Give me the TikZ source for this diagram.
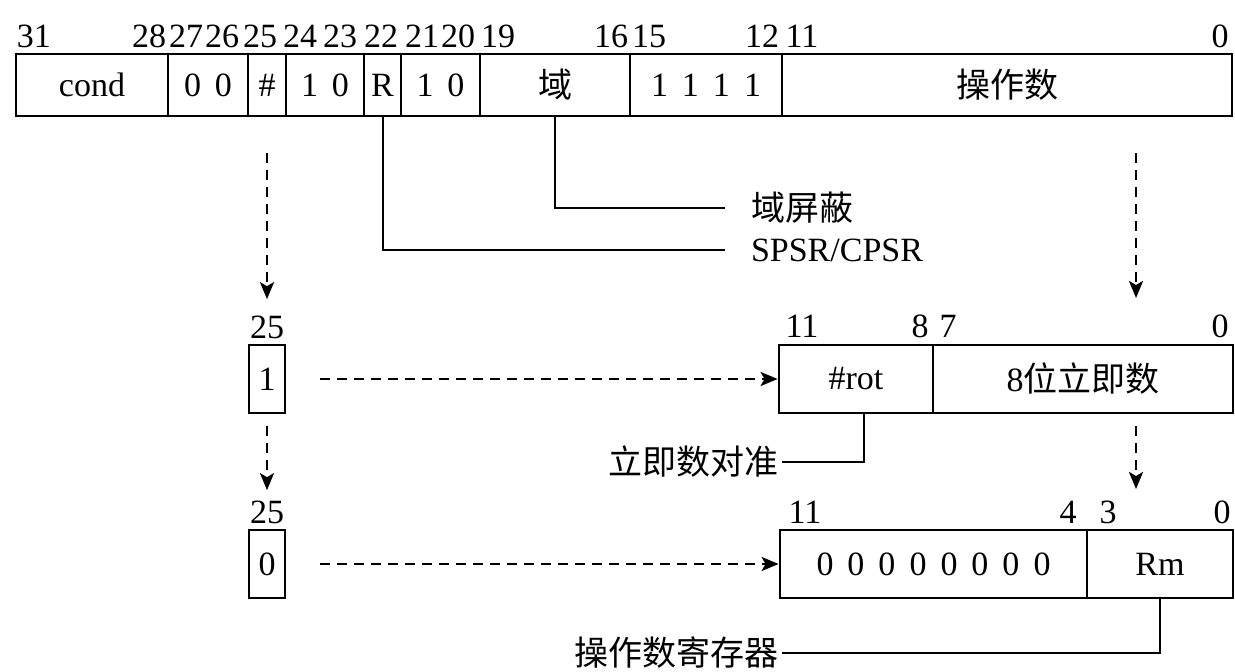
\documentclass[tikz,border=0pt]{standalone}
\usepackage{fontspec}
\setmainfont{Liberation Serif}
\newfontfamily\cjk{Noto Sans CJK SC}
\usetikzlibrary{arrows.meta}

\begin{document}
\begin{tikzpicture}[x=0.5pt, y=-0.5pt,
    every node/.style={font=\fontsize{17}{20}\selectfont, inner sep=0pt},
    fld/.style={draw, line width=1.4pt, minimum height=34pt},
    dasharr/.style={dashed, dash pattern=on 5pt off 3.5pt, line width=1.3pt,
      -{Stealth[length=8.5pt, width=7pt, inset=2pt]}},
    conn/.style={line width=1pt},
    tag/.style={outer sep=#1}]
  \useasboundingbox (0,0) rectangle (1235,672);
  % instruction word
  \foreach \a/\b/\t/\n in {16/168/cond/cond, 168/248/0\hspace{7pt}0/zz, 248/286/\#/hash,
      286/364/1\hspace{7pt}0/ta, 364/401/R/rbit, 401/480/1\hspace{7pt}0/tb, 480/630/{\cjk 域}/dom,
      630/782/1\hspace{7pt}1\hspace{7pt}1\hspace{7pt}1/ones, 782/1232/{\cjk 操作数}/opnd}
    \node[fld, minimum height=31pt, minimum width={0.5*(\b-\a)*1pt}] (\n) at ({(\a+\b)/2},85) {\t};
  \foreach \x/\t in {34/31, 149/28, 186/27, 222/26, 260/25, 300/24, 340/23, 381/22, 422/21,
      458/20, 498/19, 611/16, 649/15, 762/12, 802/11, 1220/0}
    \node (w\t) at (\x,36) {\t};
  % immediate operand
  \node (ia) at (267,327) {25};
  \node[fld, minimum width=18pt] (one) at (267,379) {1};
  \node[fld, minimum width=77pt] (rot) at (856,379) {\#rot};
  \node[fld, minimum width=150pt] (imm) at (1083,379) {8{\cjk 位立即数}};
  \foreach \x/\t in {802/11, 920/8, 948/7, 1220/0}
    \node (r\t) at (\x,326) {\t};
  % register operand
  \node (ib) at (267,512) {25};
  \node[fld, minimum width=18pt] (zero) at (267,564) {0};
  \node[fld, minimum width=153.5pt] (zeros) at (933.5,564)
    {0\hspace{7pt}0\hspace{7pt}0\hspace{7pt}0\hspace{7pt}0\hspace{7pt}0\hspace{7pt}0\hspace{7pt}0};
  \node[fld, minimum width=73pt] (rm) at (1160,564) {Rm};
  \foreach \x/\t in {805/11, 1068/4, 1108/3, 1222/0}
    \node (m\t) at (\x,512) {\t};
  % notes
  \node[tag=13pt, anchor=west] (mask) at (725,208) {{\cjk 域屏蔽}};
  \node[tag=13pt, anchor=west] (spsr) at (725,250) {SPSR/CPSR};
  \node[tag=2pt, anchor=east] (align) at (782,462) {{\cjk 立即数对准}};
  \node[tag=2pt, anchor=east] (reg) at (782,653) {{\cjk 操作数寄存器}};
  \draw[conn] (dom.south) |- (mask.west);
  \draw[conn] (rbit.south) |- (spsr.west);
  \draw[conn] ([xshift=4pt]rot.south) |- (align.east);
  \draw[conn] (rm.south) |- (reg.east);
  % dashed arrows
  \coordinate (opend) at (1136,298);
  \coordinate (immend) at (1136,489);
  \draw[dasharr, shorten <=18pt, shorten >=8pt] (hash.south) -- (ia.north);
  \draw[dasharr, shorten <=18pt] (opnd.south -| opend) -- (opend);
  \draw[dasharr, shorten <=17pt] (one.east) -- (rot.west);
  \draw[dasharr, shorten <=6pt, shorten >=5pt] (one.south) -- (ib.north);
  \draw[dasharr, shorten <=6pt] (imm.south -| immend) -- (immend);
  \draw[dasharr, shorten <=17pt] (zero.east) -- (zeros.west);
\end{tikzpicture}
\end{document}
